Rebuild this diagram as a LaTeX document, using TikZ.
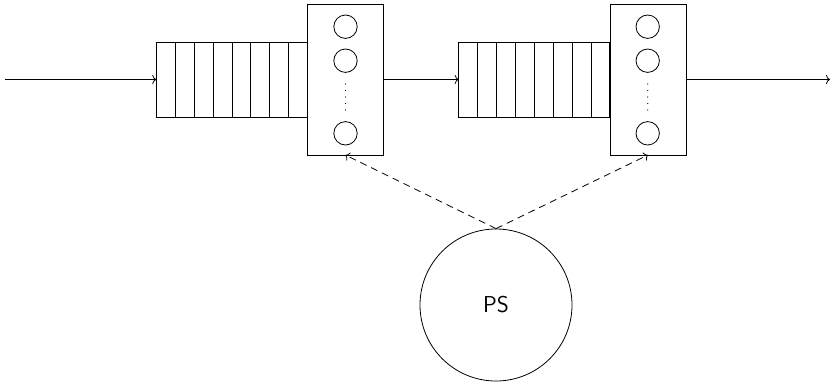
\documentclass[tikz,border=0pt]{standalone}
\usetikzlibrary{arrows.meta,calc}
\begin{document}
\begin{tikzpicture}[x=1pt,y=-1pt,
  every path/.style={line width=0.8pt},
  queuebox/.style={draw, minimum width=151pt, minimum height=75pt, inner sep=0pt, outer sep=0pt},
  serverbox/.style={draw, minimum width=76pt, minimum height=151pt, inner sep=0pt, outer sep=0pt},
  slot/.style={draw, circle, minimum size=23.4pt, inner sep=0pt},
  psnode/.style={draw, circle, minimum size=152pt, inner sep=0pt, font=\fontsize{23}{27}\selectfont\sffamily},
  flow/.style={-{To[length=4pt,width=9pt]}},
  ctrl/.style={flow, dash pattern=on 7pt off 5pt}]
\useasboundingbox (0,0) rectangle (832,386);
% first station
\node[queuebox] (q1) at (231.8,79.5) {};
\foreach \i in {1,...,7} \draw ($(q1.north west)+(\i*18.9,0)$) -- ($(q1.south west)+(\i*18.9,0)$);
\node[serverbox] (s1) at (345.3,79.5) {};
\node[slot] (c11) at (345.5,26.7) {};
\node[slot] (c12) at (345.5,60.7) {};
\node[slot] (c13) at (345.5,133.3) {};
\foreach \k in {0,...,4} \fill (345.5,84+\k*6.5) circle (0.55pt);
% second station
\node[queuebox] (q2) at (534.2,79.5) {};
\foreach \i in {1,...,7} \draw ($(q2.north west)+(\i*18.9,0)$) -- ($(q2.south west)+(\i*18.9,0)$);
\node[serverbox] (s2) at (648,79.5) {};
\node[slot] (c21) at (647.7,26.7) {};
\node[slot] (c22) at (647.7,60.7) {};
\node[slot] (c23) at (647.7,133.3) {};
\foreach \k in {0,...,4} \fill (647.7,84+\k*6.5) circle (0.55pt);
% parameter server
\node[psnode] (ps) at (496,305) {PS};
% connectors
\coordinate (in) at (5,79.5);
\coordinate (out) at (830,79.5);
\draw[flow] (in) -- (q1.west);
\draw[flow] (s1.east) -- (q2.west);
\draw[flow] (s2.east) -- (out);
\draw[ctrl] (ps.north) -- (s1.south);
\draw[ctrl] (ps.north) -- (s2.south);
\end{tikzpicture}
\end{document}
